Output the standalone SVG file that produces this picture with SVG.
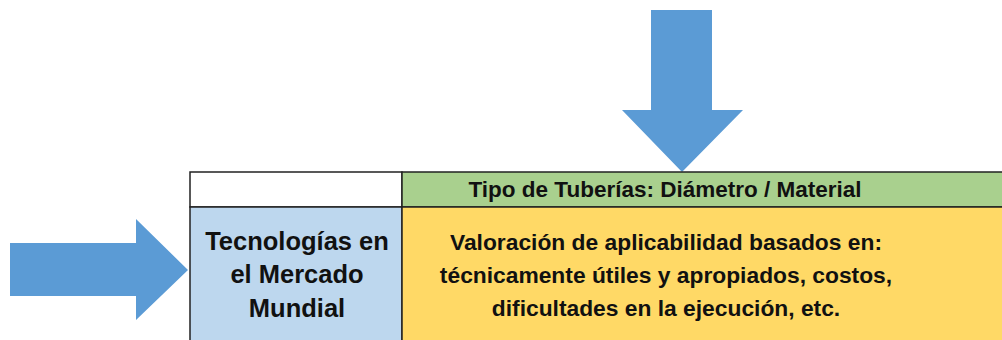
<svg xmlns="http://www.w3.org/2000/svg" width="1002" height="340" viewBox="0 0 1002 340">
<style>
.t{font-family:"Liberation Sans",Arial,sans-serif;font-weight:bold;fill:#111;text-anchor:middle}
.h{font-size:22.5px}
.l{font-size:25.5px}
.r{font-size:22.8px}
.arrow{fill:#5B9BD5}
.cell{stroke:#222;stroke-width:1.5}
</style>
<rect width="1002" height="340" fill="#fff"/>
<g id="connectors">
<polygon class="arrow" points="10,243 136,243 136,219 188,270 136,320 136,296 10,296"/>
<polygon class="arrow" points="651,10 712,10 712,110 743,110 682,172 622,110 651,110"/>
</g>
<g id="empty-cell"><rect class="cell" x="190" y="172" width="212" height="35" fill="#fff"/></g>
<g id="header">
<rect class="cell" x="402" y="172" width="602" height="35" fill="#A9D08E"/>
<text class="t h" x="665" y="197">Tipo de Tuberías: Diámetro / Material</text>
</g>
<g id="tecnologias">
<rect class="cell" x="190" y="207" width="212" height="135" fill="#BDD7EE"/>
<text class="t l" x="297" y="250">Tecnologías en</text>
<text class="t l" x="297" y="283">el Mercado</text>
<text class="t l" x="297" y="317">Mundial</text>
</g>
<g id="valoracion">
<rect class="cell" x="402" y="207" width="602" height="135" fill="#FFD966"/>
<text class="t r" x="666" y="250">Valoración de aplicabilidad basados en:</text>
<text class="t r" x="666" y="283">técnicamente útiles y apropiados, costos,</text>
<text class="t r" x="666" y="316">dificultades en la ejecución, etc.</text>
</g>
</svg>
